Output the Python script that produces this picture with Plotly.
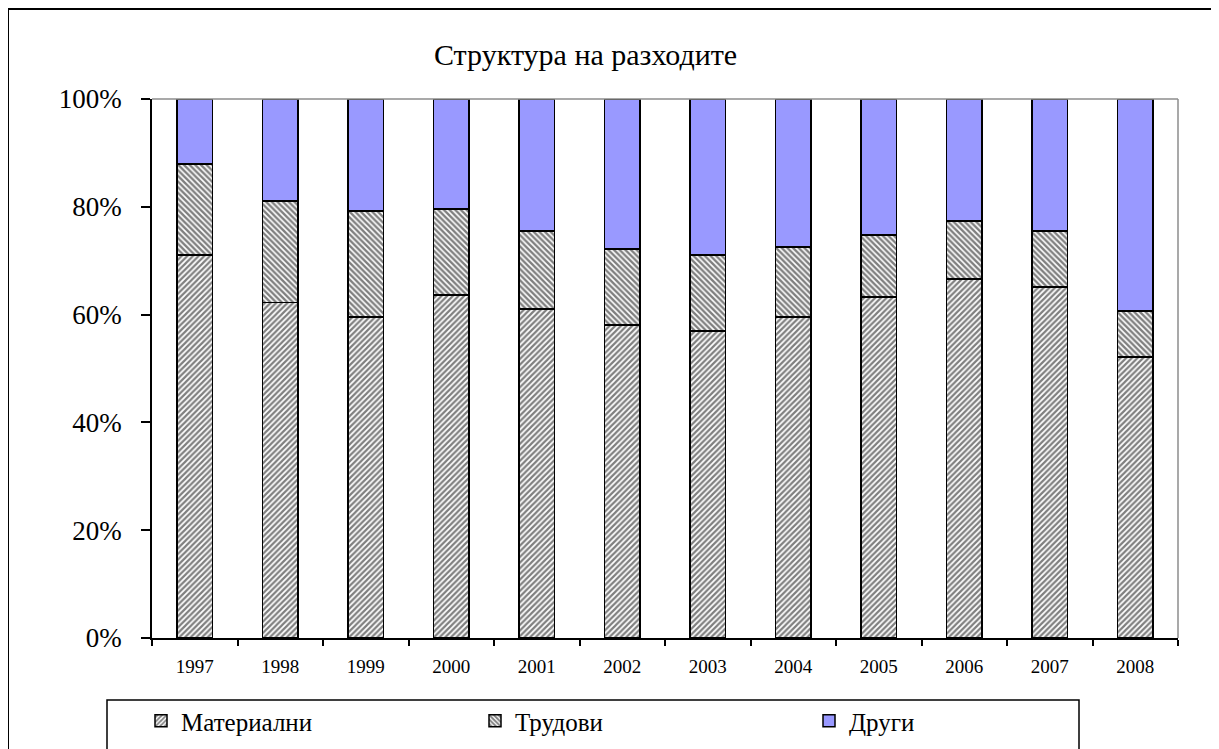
import plotly.graph_objects as go

years = ["1997", "1998", "1999", "2000", "2001", "2002", "2003", "2004", "2005", "2006", "2007", "2008"]
materialni = [71.1, 62.2, 59.6, 63.6, 61.0, 58.1, 57.0, 59.6, 63.3, 66.6, 65.1, 52.1]
cumul_trud = [87.9, 81.1, 79.2, 79.6, 75.5, 72.2, 71.1, 72.5, 74.8, 77.4, 75.5, 60.7]
trudovi = [round(c - m, 1) for c, m in zip(cumul_trud, materialni)]
drugi = [round(100 - c, 1) for c in cumul_trud]
y_ticks = [0, 20, 40, 60, 80, 100]

FONT = "Liberation Serif"

fig = go.Figure()
fig.add_trace(go.Bar(
    x=years, y=materialni, name="Материални",
    marker=dict(color="white", line=dict(color="black", width=1.5),
                pattern=dict(shape="/", fgcolor="black", bgcolor="white", size=4, solidity=0.55)),
))
fig.add_trace(go.Bar(
    x=years, y=trudovi, name="Трудови",
    marker=dict(color="white", line=dict(color="black", width=1.5),
                pattern=dict(shape="\\", fgcolor="black", bgcolor="white", size=4, solidity=0.6)),
))
fig.add_trace(go.Bar(
    x=years, y=drugi, name="Други",
    marker=dict(color="#9999FF", line=dict(color="black", width=1.5)),
))

OFF = 8  # page body margin in the browser
L, R, T, B = 152 - OFF, 1178 - OFF, 99 - OFF, 638 - OFF
W, H = 1219 - OFF, 749 - OFF
pw, ph = R - L, B - T


def px(x):
    return (x - OFF - L) / pw


def py(y):
    return (B - (y - OFF)) / ph


shapes = [
    dict(type="line", xref="paper", yref="paper", x0=0, x1=1, y0=1, y1=1,
         line=dict(color="#8c8c8c", width=1.5)),
    dict(type="line", xref="paper", yref="paper", x0=1, x1=1, y0=0, y1=1,
         line=dict(color="#8c8c8c", width=1.5)),
    dict(type="rect", xref="paper", yref="paper", x0=px(107), x1=px(1079), y0=py(800), y1=py(700),
         line=dict(color="black", width=1.5), fillcolor="rgba(0,0,0,0)"),
    dict(type="rect", xref="paper", yref="paper", x0=px(8), x1=px(1240), y0=py(800), y1=py(9),
         line=dict(color="black", width=2), fillcolor="rgba(0,0,0,0)"),
]

fig.update_layout(
    width=W, height=H,
    margin=dict(l=L, r=W - R, t=T, b=H - B, autoexpand=False),
    barmode="stack", bargap=0.58,
    plot_bgcolor="white", paper_bgcolor="white",
    font=dict(family=FONT, color="black"),
    showlegend=True,
    legend=dict(orientation="h", x=px(141), xanchor="left", y=py(698), yanchor="top",
                font=dict(size=25, family=FONT), entrywidth=289, entrywidthmode="pixels",
                traceorder="normal", bgcolor="rgba(0,0,0,0)"),
    shapes=shapes,
    annotations=[dict(text="Структура на разходите", xref="paper", yref="paper",
                      x=px(585), y=py(55), xanchor="center", yanchor="middle",
                      showarrow=False, font=dict(size=30, family=FONT))],
    xaxis=dict(showline=True, linecolor="black", linewidth=1.5, ticks="outside", ticklen=6,
               tickcolor="black", tickwidth=1.5, tickson="boundaries",
               tickfont=dict(size=19, family=FONT), showgrid=False, ticklabelstandoff=10),
    yaxis=dict(range=[0, 100], tickvals=y_ticks, ticktext=[f"{v}%" for v in y_ticks],
               showline=True, linecolor="black", linewidth=1.5, ticks="outside", ticklen=9,
               tickcolor="black", tickwidth=1.5, showgrid=False, zeroline=False,
               tickfont=dict(size=27, family=FONT), ticklabelstandoff=14),
)

fig.write_html("out.html")
